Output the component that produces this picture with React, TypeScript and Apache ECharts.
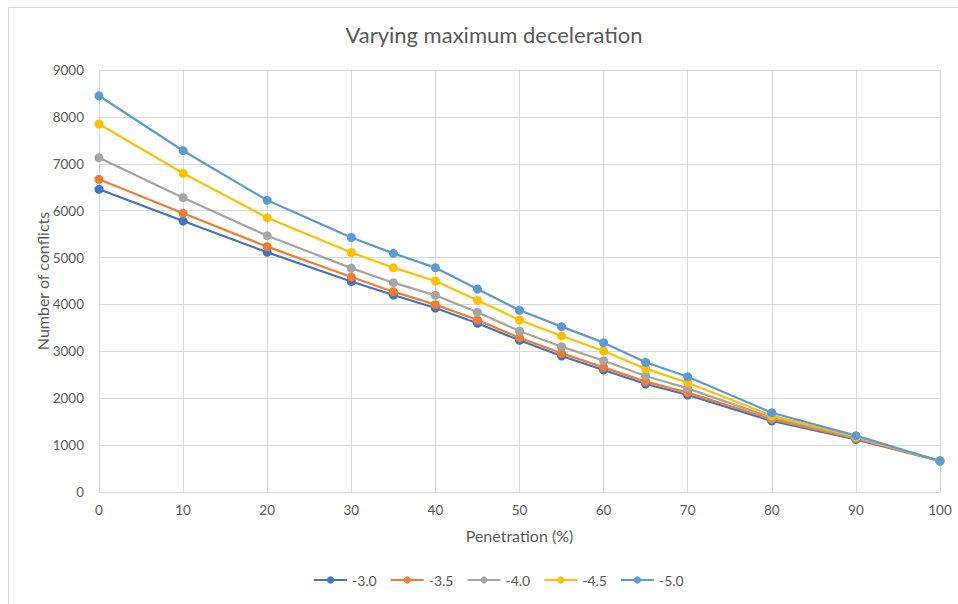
import React, { useEffect, useRef } from "react";
import * as echarts from "echarts";

const penetration = [0, 10, 20, 30, 35, 40, 45, 50, 55, 60, 65, 70, 80, 90, 100];
const seriesNames = ["-3.0", "-3.5", "-4.0", "-4.5", "-5.0"];
const dec30 = [6456, 5779, 5112, 4490, 4201, 3924, 3598, 3235, 2900, 2602, 2303, 2069, 1514, 1120, 661];
const dec35 = [6669, 5944, 5232, 4585, 4272, 3995, 3668, 3291, 2958, 2659, 2353, 2118, 1550, 1140, 661];
const dec40 = [7130, 6277, 5466, 4775, 4464, 4195, 3832, 3434, 3099, 2800, 2474, 2211, 1585, 1160, 661];
const dec45 = [7848, 6797, 5850, 5108, 4784, 4500, 4088, 3668, 3327, 3007, 2630, 2331, 1627, 1180, 661];
const dec50 = [8451, 7279, 6221, 5428, 5090, 4784, 4329, 3875, 3526, 3185, 2766, 2459, 1691, 1201, 661];
const colors = ["#4472C4", "#ED7D31", "#A5A5A5", "#FFC000", "#5B9BD5"];

const FONT = "Lato, 'Open Sans', sans-serif";

export default function App() {
  const ref = useRef<HTMLDivElement>(null);
  useEffect(() => {
    document.body.style.margin = "0";
    const chart = echarts.init(ref.current!, null, { renderer: "svg" });
    const all = [dec30, dec35, dec40, dec45, dec50];
    chart.setOption({
      animation: false,
      textStyle: { fontFamily: FONT },
      graphic: [
        {
          type: "rect",
          shape: { x: 8.5, y: 7.5, width: 970, height: 620 },
          style: { fill: "none", stroke: "#d9d9d9", lineWidth: 1 },
          silent: true,
        },
      ],
      title: {
        text: "Varying maximum deceleration",
        left: 489,
        textAlign: "center",
        top: 18,
        textStyle: { fontSize: 22, fontWeight: "normal", color: "#595959", fontFamily: FONT },
      },
      grid: { left: 99, right: 18, top: 70, bottom: 112 },
      legend: {
        bottom: 12,
        left: 308,
        itemWidth: 33,
        itemHeight: 9,
        itemGap: 13,
        textStyle: { fontSize: 14, color: "#595959", fontFamily: FONT },
        data: seriesNames,
      },
      xAxis: {
        type: "value",
        min: 0,
        max: 100,
        interval: 10,
        name: "Penetration (%)",
        nameLocation: "middle",
        nameGap: 35,
        nameTextStyle: { fontSize: 16, color: "#595959", fontFamily: FONT },
        axisLine: { show: true, lineStyle: { color: "#d9d9d9" } },
        axisTick: { show: false },
        axisLabel: { color: "#595959", fontSize: 13.5, margin: 11, fontFamily: FONT },
        splitLine: { show: true, lineStyle: { color: "#d9d9d9" } },
      },
      yAxis: {
        type: "value",
        min: 0,
        max: 9000,
        interval: 1000,
        name: "Number of conflicts",
        nameLocation: "middle",
        nameGap: 49,
        nameMoveOverlap: false,
        nameTextStyle: { fontSize: 16, color: "#595959", fontFamily: FONT },
        axisLine: { show: false },
        axisTick: { show: false },
        axisLabel: {
          color: "#595959",
          fontSize: 13.5,
          margin: 15,
          fontFamily: FONT,
          formatter: (v: number) => String(v),
        },
        splitLine: { show: true, lineStyle: { color: "#d9d9d9" } },
      },
      series: seriesNames.map((name, i) => ({
        name,
        type: "line",
        data: penetration.map((x, j) => [x, all[i][j]]),
        symbol: "circle",
        symbolSize: 9,
        lineStyle: { width: 2.25, color: colors[i] },
        itemStyle: { color: colors[i] },
      })),
    });
    return () => chart.dispose();
  }, []);
  return <div ref={ref} style={{ width: 958, height: 604 }} />;
}
